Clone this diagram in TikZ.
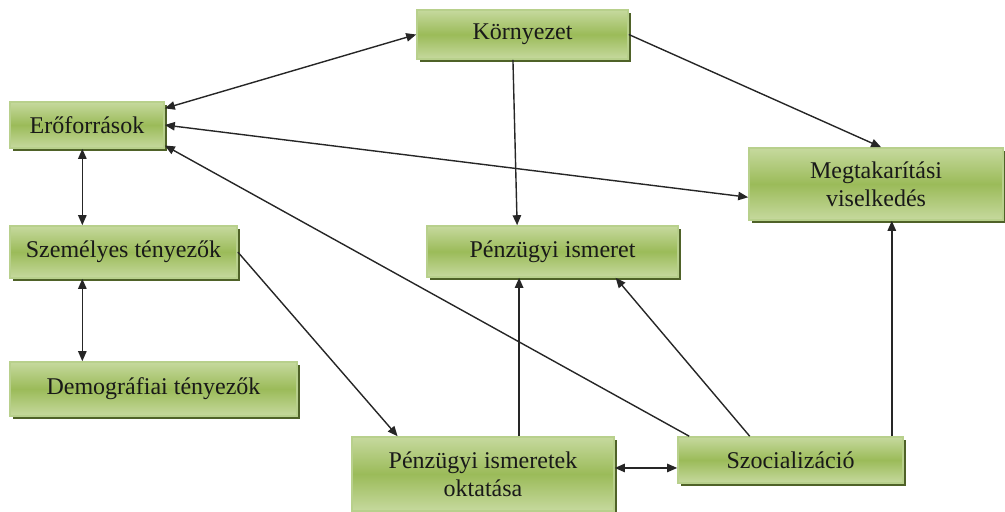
\documentclass[tikz,border=0pt]{standalone}
\usepackage{fontspec}
\setmainfont{Liberation Serif}
\usetikzlibrary{arrows.meta,shadows,calc}
\definecolor{lg}{RGB}{198,217,158}
\definecolor{mg}{RGB}{155,187,89}
\definecolor{bd}{RGB}{184,208,140}
\definecolor{sh}{RGB}{79,98,40}
\tikzset{
  box/.style={draw=bd, line width=0.8pt, top color=lg, bottom color=lg, middle color=mg,
    drop shadow={shadow xshift=1.6pt, shadow yshift=-1.6pt, fill=sh, opacity=1},
    align=center, inner sep=0pt, font=\fontsize{12}{14}\selectfont, text=black!90},
  conn/.style={line width=0.7pt, draw=black!85, -{Triangle[length=5pt,width=4.2pt]}},
  dconn/.style={line width=0.7pt, draw=black!85, {Triangle[length=5pt,width=4.2pt]}-{Triangle[length=5pt,width=4.2pt]}},
  plain/.style={line width=0.7pt, draw=black!85}
}
\begin{document}
\begin{tikzpicture}[x=0.5pt,y=-0.5pt]
\useasboundingbox (0,0) rectangle (1005,511);
\node[box, minimum width=105.5pt, minimum height=24.5pt] (kor) at (522.5,34.5) {Környezet};
\node[box, minimum width=77pt, minimum height=23pt] (ero) at (87,125) {Erőforrások};
\node[box, minimum width=113.5pt, minimum height=26pt] (sze) at (123.5,252) {Személyes tényezők};
\node[box, minimum width=143.5pt, minimum height=27pt] (dem) at (153.5,389) {Demográfiai tényezők};
\node[box, minimum width=125.5pt, minimum height=25.5pt] (pis) at (552.5,251.5) {Pénzügyi ismeret};
\node[box, minimum width=127pt, minimum height=36pt] (meg) at (876,184) {Megtakarítási\\viselkedés};
\node[box, minimum width=131pt, minimum height=37pt] (okt) at (483,474) {Pénzügyi ismeretek\\oktatása};
\node[box, minimum width=112.5pt, minimum height=23pt] (soc) at (790.5,460) {Szocializáció};

% connectors
\draw[dconn] ($(ero.north east)!0.15!(ero.south east)$) -- (kor.west);
\draw[dconn] (ero.east) -- ($(meg.north west)!0.68!(meg.south west)$);
\draw[conn] ($(soc.north west)!0.053!(soc.north east)$) -- ($(ero.north east)!0.93!(ero.south east)$);

\coordinate (c1) at ($(ero.south west)!0.47!(ero.south east)$);
\draw[dconn] (c1) -- (c1 |- sze.north);
\coordinate (c2) at (c1 |- sze.south);
\draw[dconn] (c2) -- (c2 |- dem.north);

\draw[conn] (sze.east) -- ($(okt.north west)!0.176!(okt.north east)$);
\draw[conn] ($(kor.south west)!0.455!(kor.south east)$) -- ($(pis.north west)!0.36!(pis.north east)$);
\draw[conn] (kor.east) -- ($(meg.north west)!0.52!(meg.north east)$);

\coordinate (c3) at ($(okt.north west)!0.637!(okt.north east)$);
\draw[conn] (c3) -- (c3 |- pis.south);
\draw[conn] ($(soc.north west)!0.32!(soc.north east)$) -- ($(pis.south west)!0.75!(pis.south east)$);

\coordinate (c4) at ($(okt.north east)!0.42!(okt.south east)$);
\draw[dconn] (c4) -- (c4 -| soc.west);

\coordinate (c5) at ($(soc.north west)!0.947!(soc.north east)$);
\draw[conn] (c5) -- (c5 |- meg.south);
\end{tikzpicture}
\end{document}
